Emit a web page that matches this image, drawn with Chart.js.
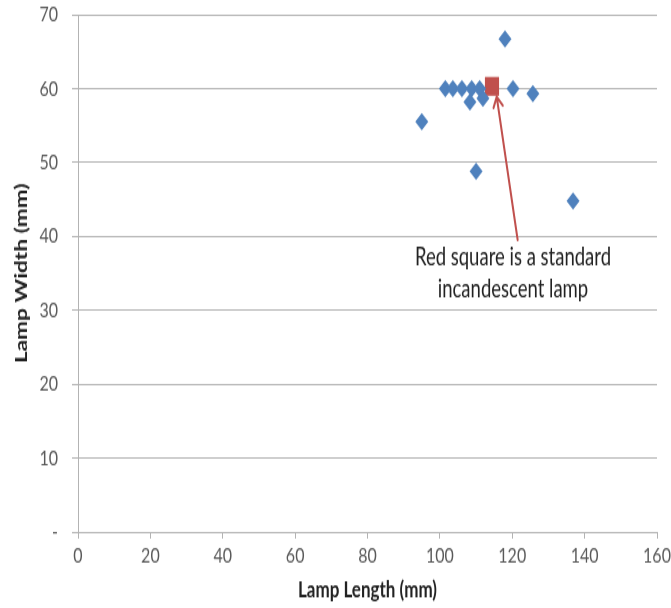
<!DOCTYPE html>
<html>
<head>
<meta charset="utf-8">
<script src="https://cdn.jsdelivr.net/npm/chart.js@4.4.0/dist/chart.umd.min.js"></script>
<style>
html,body{margin:0;padding:0;background:#fff;overflow:hidden;}
#wrap{width:671px;height:456px;position:absolute;left:0;top:0;transform-origin:0 0;transform:scaleY(1.33333);}
#c{display:block;width:671px;height:456px;}
</style>
</head>
<body>
<div id="wrap"><canvas id="c" width="671" height="456" style="width:671px;height:456px"></canvas></div>
<script>
// Data
const lampLength = [95, 101.5, 103.6, 106.1, 108.8, 111, 108.3, 111.9, 118, 120.2, 125.7, 110, 136.8];
const lampWidth  = [55.5, 60, 60, 60, 60, 60, 58.2, 58.7, 66.7, 60, 59.3, 48.8, 44.8];
const standardLength = [114.4];
const standardWidth  = [60.3];
const xTicks = [0, 20, 40, 60, 80, 100, 120, 140, 160];
const yTicks = [0, 10, 20, 30, 40, 50, 60, 70];
const noteLines = ["Red square is a standard", "incandescent lamp"];
const noteAnchor = {x: 120.2, y1: 37.2, y2: 32.8};
const arrowFrom = {x: 121.5, y: 39.5};
const arrowTo = {x: 115.7, y: 58.9};

const blue = '#4f81bd';
const red = '#c0504d';
const grid = '#b3b3b3';
const font = "Lato, 'Open Sans', sans-serif";

const annotate = {
  id: 'annotate',
  afterDatasetsDraw(chart) {
    const {ctx, scales: {x, y}} = chart;
    ctx.save();
    const x0 = x.getPixelForValue(arrowFrom.x), y0 = y.getPixelForValue(arrowFrom.y);
    const x1 = x.getPixelForValue(arrowTo.x), y1 = y.getPixelForValue(arrowTo.y);
    ctx.strokeStyle = red;
    ctx.lineWidth = 2;
    ctx.lineCap = 'round';
    ctx.beginPath();
    ctx.moveTo(x0, y0);
    ctx.lineTo(x1, y1);
    const ang = Math.atan2(y1 - y0, x1 - x0);
    const L = 9, a = 0.55;
    ctx.moveTo(x1 - L * Math.cos(ang - a), y1 - L * Math.sin(ang - a));
    ctx.lineTo(x1, y1);
    ctx.lineTo(x1 - L * Math.cos(ang + a), y1 - L * Math.sin(ang + a));
    ctx.stroke();
    ctx.fillStyle = '#222';
    ctx.font = "18.5px " + font;
    ctx.textAlign = 'center';
    ctx.textBaseline = 'middle';
    const tx = x.getPixelForValue(noteAnchor.x);
    ctx.fillText(noteLines[0], tx, y.getPixelForValue(noteAnchor.y1));
    ctx.fillText(noteLines[1], tx, y.getPixelForValue(noteAnchor.y2));
    ctx.restore();
  }
};

new Chart(document.getElementById('c'), {
  type: 'scatter',
  data: {
    datasets: [
      {
        label: 'Lamps',
        data: lampLength.map((v, i) => ({x: v, y: lampWidth[i]})),
        pointStyle: 'rectRot',
        pointRadius: 6.5,
        pointHoverRadius: 6.5,
        backgroundColor: blue,
        borderColor: blue,
        borderWidth: 0
      },
      {
        label: 'Standard incandescent',
        data: standardLength.map((v, i) => ({x: v, y: standardWidth[i]})),
        pointStyle: 'rect',
        pointRadius: 10,
        pointHoverRadius: 10,
        backgroundColor: red,
        borderColor: red,
        borderWidth: 0
      }
    ]
  },
  options: {
    responsive: false,
    animation: false,
    events: [],
    layout: {padding: {top: 11, right: 14, left: 0, bottom: 0}},
    plugins: {legend: {display: false}, tooltip: {enabled: false}},
    scales: {
      x: {
        type: 'linear',
        min: 0, max: 160,
        afterBuildTicks(s) { s.ticks = xTicks.map(v => ({value: v})); },
        afterFit(s) { s.height = 57; s.paddingLeft = 0; s.paddingRight = 0; },
        grid: {drawOnChartArea: false, drawTicks: true, tickLength: 5, color: grid, lineWidth: 1},
        border: {display: true, color: grid, width: 1},
        ticks: {color: '#595959', font: {family: font, size: 16}, padding: 3, maxRotation: 0},
        title: {display: true, text: 'Lamp Length (mm)', color: '#222', font: {family: font, size: 17, weight: 'bold'}, padding: {top: 2, bottom: 3}}
      },
      y: {
        type: 'linear',
        min: 0, max: 70,
        afterBuildTicks(s) { s.ticks = yTicks.map(v => ({value: v})); },
        afterFit(s) { s.width = 78; s.paddingTop = 0; s.paddingBottom = 0; },
        grid: {drawOnChartArea: true, drawTicks: true, tickLength: 6, color: grid, lineWidth: 1},
        border: {display: true, color: grid, width: 1},
        ticks: {color: '#595959', font: {family: font, size: 16}, padding: 14,
          callback: v => v === 0 ? '-' : String(v)},
        title: {display: true, text: 'Lamp Width (mm)', color: '#222', font: {family: font, size: 17, weight: 'bold'}, padding: {top: 11, bottom: 0}}
      }
    }
  },
  plugins: [annotate]
});
</script>
</body>
</html>
